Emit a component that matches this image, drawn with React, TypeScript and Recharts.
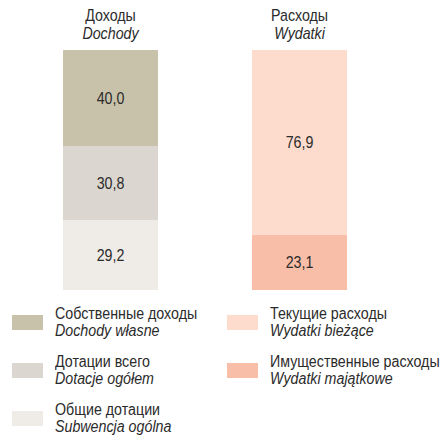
import React from "react";
import { BarChart, Bar, XAxis, YAxis, LabelList } from "recharts";

// categories (Russian + Polish names)
const categories = ["Доходы", "Расходы"];
const categoriesPl = ["Dochody", "Wydatki"];

// shares in %, one value per category
const subwencjaOgolna = [29.2, null];
const dotacjeOgolem = [30.8, null];
const dochodyWlasne = [40.0, null];
const wydatkiMajatkowe = [null, 23.1];
const wydatkiBiezace = [null, 76.9];

type Series = {
  key: string;
  ru: string;
  pl: string;
  color: string;
  values: (number | null)[];
};

// stacking order: bottom to top
const series: Series[] = [
  { key: "subwencja", ru: "Общие дотации", pl: "Subwencja ogólna", color: "#efebe6", values: subwencjaOgolna },
  { key: "dotacje", ru: "Дотации всего", pl: "Dotacje ogółem", color: "#dbd6cf", values: dotacjeOgolem },
  { key: "wlasne", ru: "Собственные доходы", pl: "Dochody własne", color: "#c9c2aa", values: dochodyWlasne },
  { key: "majatkowe", ru: "Имущественные расходы", pl: "Wydatki majątkowe", color: "#f9bea7", values: wydatkiMajatkowe },
  { key: "biezace", ru: "Текущие расходы", pl: "Wydatki bieżące", color: "#fddbcd", values: wydatkiBiezace },
];

const legendLeft = ["wlasne", "dotacje", "subwencja"];
const legendRight = ["biezace", "majatkowe"];

const data = categories.map((name, i) => {
  const row: Record<string, any> = { name, pl: categoriesPl[i] };
  series.forEach((s) => {
    row[s.key] = s.values[i];
  });
  return row;
});

const FONT = "'Liberation Sans', Arial, sans-serif";
const TEXT = "#2b2b2b";
const SX = 0.89; // the original uses a narrow sans face

const fmt = (v: any) => (v == null ? "" : Number(v).toFixed(1).replace(".", ","));

const TitleTick = (props: any) => {
  const { x, y, payload, index } = props;
  return (
    <g transform={`translate(${x},${y}) scale(${SX},1)`}>
      <text x={0} y={-29} textAnchor="middle" fontSize={16} fill={TEXT} fontFamily={FONT}>
        {payload.value}
      </text>
      <text x={0} y={-11} textAnchor="middle" fontSize={16} fill={TEXT} fontFamily={FONT} fontStyle="italic">
        {categoriesPl[index]}
      </text>
    </g>
  );
};

const ValueLabel = (props: any) => {
  const { x, y, width, height, value } = props;
  if (value == null) return null;
  return (
    <g transform={`translate(${x + width / 2},${y + height / 2}) scale(${SX},1)`}>
      <text x={0} y={0} dy="0.36em" textAnchor="middle" fontSize={16} fill={TEXT} fontFamily={FONT}>
        {fmt(value)}
      </text>
    </g>
  );
};

function LegendItem({ s }: { s: Series }) {
  return (
    <div style={{ display: "flex", alignItems: "center", height: 34, marginBottom: 14 }}>
      <div style={{ width: 31, height: 15, background: s.color, marginRight: 12, flexShrink: 0 }} />
      <div
        style={{
          fontSize: 16,
          lineHeight: "17px",
          color: TEXT,
          whiteSpace: "nowrap",
          transform: `scaleX(${SX})`,
          transformOrigin: "left center",
        }}
      >
        <div>{s.ru}</div>
        <div style={{ fontStyle: "italic" }}>{s.pl}</div>
      </div>
    </div>
  );
}

export default function App() {
  const byKey = (k: string) => series.find((s) => s.key === k)!;
  return (
    <div
      style={{
        position: "absolute",
        left: 0,
        top: 0,
        width: 443,
        height: 438,
        overflow: "hidden",
        background: "#fff",
        fontFamily: FONT,
      }}
    >
      <BarChart width={443} height={300} data={data} margin={{ top: 0, right: 49, bottom: 10, left: 16 }}>
        <XAxis
          dataKey="name"
          orientation="top"
          height={50}
          axisLine={false}
          tickLine={false}
          tickSize={0}
          tickMargin={0}
          tick={<TitleTick />}
          interval={0}
        />
        <YAxis hide domain={[0, 100]} />
        {series.map((s) => (
          <Bar key={s.key} dataKey={s.key} stackId="a" fill={s.color} barSize={95} isAnimationActive={false}>
            <LabelList dataKey={s.key} content={<ValueLabel />} />
          </Bar>
        ))}
      </BarChart>
      <div style={{ position: "absolute", left: 12, top: 305 }}>
        {legendLeft.map((k) => (
          <LegendItem key={k} s={byKey(k)} />
        ))}
      </div>
      <div style={{ position: "absolute", left: 227, top: 305 }}>
        {legendRight.map((k) => (
          <LegendItem key={k} s={byKey(k)} />
        ))}
      </div>
    </div>
  );
}
